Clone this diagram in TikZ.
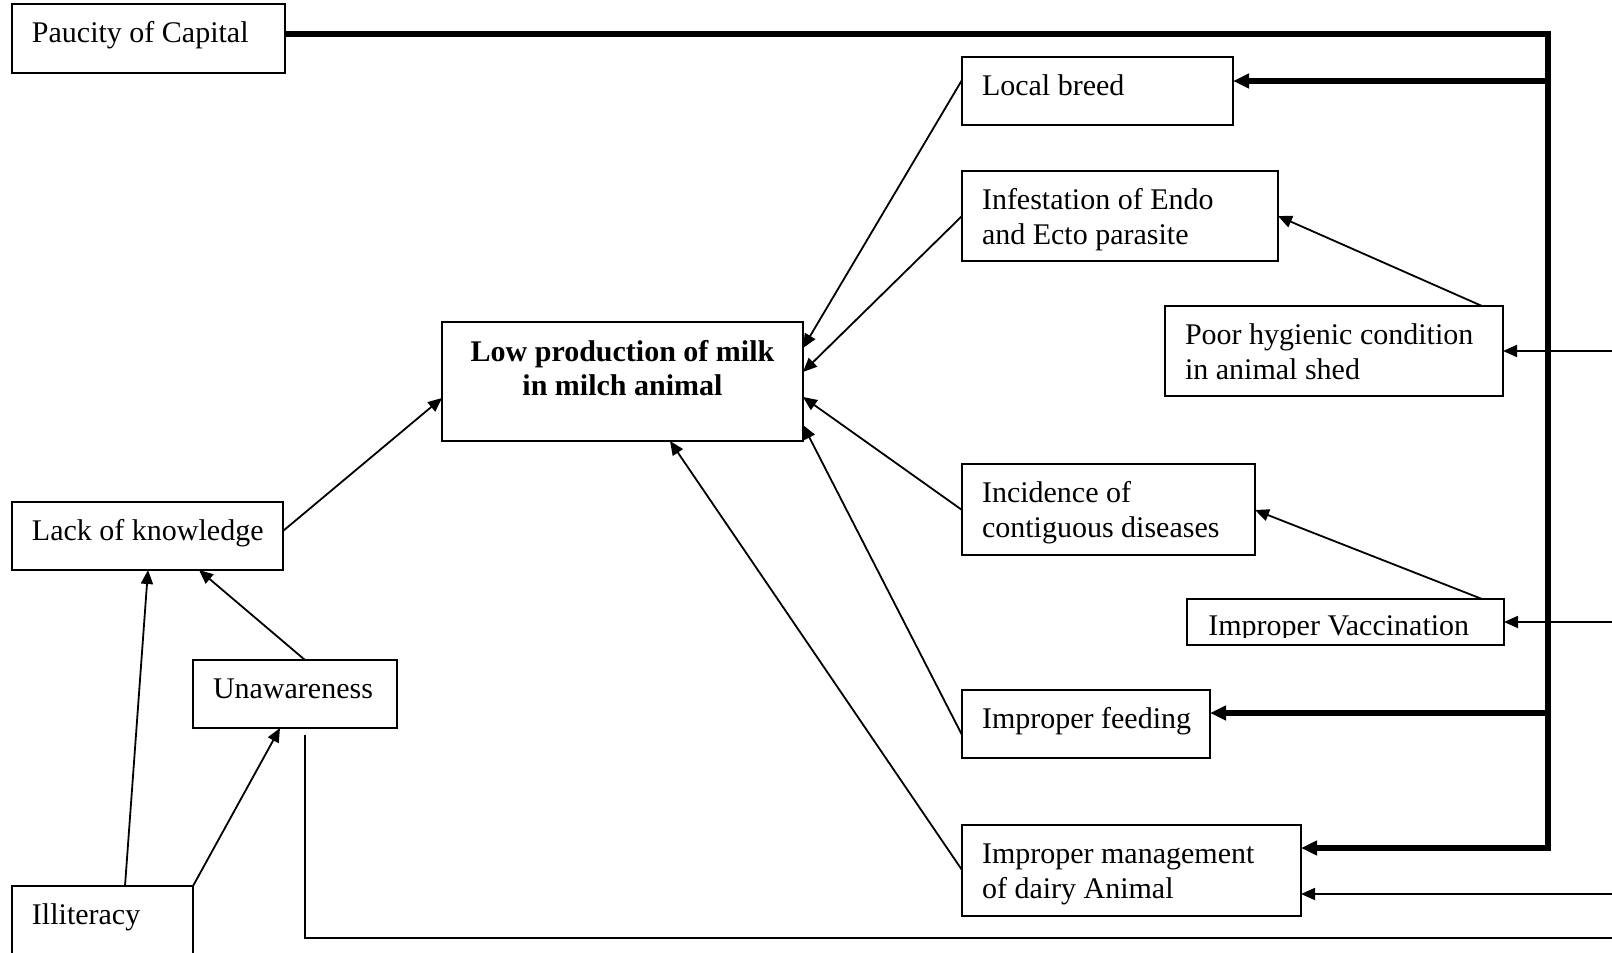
\documentclass[tikz,border=0pt]{standalone}
\usepackage{fontspec}
\setmainfont{Liberation Serif}
\usetikzlibrary{arrows.meta}
\newcommand\boxtxt[2]{\makebox[#1][l]{\begin{tabular}[t]{@{}l@{}}#2\end{tabular}}}
\begin{document}
\begin{tikzpicture}[x=0.5pt,y=-0.5pt,
  font=\fontsize{15pt}{17.5pt}\selectfont,
  box/.style={draw, line width=0.9pt, anchor=north west, inner xsep=10pt, inner ysep=0pt, outer sep=0pt, text height=19pt},
  ln/.style={line width=0.9pt},
  arr/.style={ln, -{Triangle[length=7pt,width=6pt]}},
  bus/.style={line width=2.75pt, line join=miter},
  busarr/.style={bus, -{Triangle[length=8pt,width=7pt]}},
]
\clip (0,0) rectangle (1612,953);

% boxes
\node[box, text depth=15.5pt] (pauc) at (12,4) {\boxtxt{116.5pt}{Paucity of Capital}};
\node[box, text depth=15pt] (lb) at (962,57) {\boxtxt{115.5pt}{Local breed}};
\node[box, text depth=26pt] (inf) at (962,171) {\boxtxt{138pt}{Infestation of Endo\\and Ecto parasite}};
\node[box, text depth=26pt] (poor) at (1165,306) {\boxtxt{149pt}{Poor hygienic condition\\in animal shed}};
\node[box, text height=19.5pt, text depth=40pt, font=\fontsize{15pt}{17pt}\selectfont\bfseries] (low) at (442,322)
  {\makebox[160.5pt]{\begin{tabular}[t]{@{}c@{}}Low production of milk\\in milch animal\end{tabular}}};
\node[box, text depth=26.5pt] (inc) at (962,464) {\boxtxt{126.5pt}{Incidence of\\contiguous diseases}};
\node[box, text depth=15pt] (feed) at (962,690) {\boxtxt{104pt}{Improper feeding}};
\node[box, text depth=26.5pt] (mgmt) at (962,825) {\boxtxt{149.5pt}{Improper management\\of dairy Animal}};
\node[box, text depth=15pt] (lack) at (12,502) {\boxtxt{115.5pt}{Lack of knowledge}};
\node[box, text depth=15pt] (unaw) at (193,660) {\boxtxt{82pt}{Unawareness}};
\node[box, text depth=41pt] (illit) at (12,886) {\boxtxt{70.5pt}{Illiteracy}};

\node[draw, line width=0.9pt, anchor=north west, minimum width=158.5pt, minimum height=23pt, inner sep=0pt, outer sep=0pt] (vac) at (1187,599) {};
\begin{scope}
  \clip (1187,599) rectangle (1504,637);
  \node[anchor=base west, inner sep=0pt] (vactxt) at (1208,635) {Improper Vaccination};
\end{scope}

% thin connectors
\draw[arr] (lb.west |- 0,80) -- (low.east |- 0,348);
\draw[arr] (inf.west |- 0,216) -- (low.east |- 0,372);
\draw[arr] (inc.west |- 0,510) -- (low.east |- 0,397);
\draw[arr] (feed.west |- 0,735) -- (low.east |- 0,425);
\draw[arr] (mgmt.west |- 0,870) -- (low.south -| 670,0);
\draw[arr] (poor.north -| 1482,0) -- (inf.east |- 0,216);
\draw[arr] (vac.north -| 1482,0) -- (inc.east |- 0,510);
\draw[arr] (lack.east |- 0,531) -- (low.west |- 0,398);
\draw[arr] (unaw.north -| 305,0) -- (lack.south -| 199,0);
\draw[arr] (illit.north -| 125,0) -- (lack.south -| 148,0);
\draw[arr] (illit.north east) -- (unaw.south -| 280,0);

% thick bus
\coordinate (bt) at (1548,34);
\coordinate (bb) at (1548,848);
\draw[busarr] (pauc.east |- bt) -- (bt) -- (bb) -- (mgmt.east |- bb);
\draw[busarr] (bt |- 0,81) -- (lb.east |- 0,81);
\draw[busarr] (bt |- 0,713) -- (feed.east |- 0,713);

% thin lines from the right edge
\coordinate (r1) at (1612,351);
\coordinate (r2) at (1612,622);
\coordinate (r3) at (1612,894);
\draw[arr] (r1) -- (poor.east |- r1);
\draw[arr] (r2) -- (vac.east |- r2);
\draw[arr] (r3) -- (mgmt.east |- r3);

% bottom line
\coordinate (u0) at (305,735);
\coordinate (u1) at (305,938);
\coordinate (u2) at (1612,938);
\draw[ln] (u0) -- (u1) -- (u2);
\end{tikzpicture}
\end{document}
